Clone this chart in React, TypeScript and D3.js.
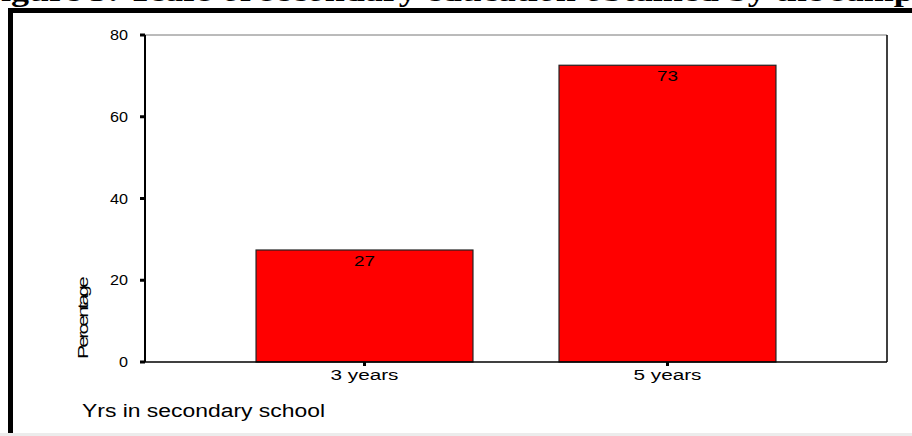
import { useEffect, useRef } from 'react';
import * as d3 from 'd3';

// values
const categories = ['3 years', '5 years'];
const percentages = [27.4, 72.6];
const barLabels = ['27', '73'];
const yTicks = [0, 20, 40, 60, 80];

const W = 912;
const H = 436;
const SANS = 'Arial, "Liberation Sans", sans-serif';

export default function App() {
  const ref = useRef<SVGSVGElement | null>(null);

  useEffect(() => {
    document.body.style.margin = '0';
    const svg = d3.select(ref.current);
    svg.selectAll('*').remove();

    const plot = { left: 145, right: 887, top: 35, bottom: 362 };

    // page background + cut-off caption
    svg.append('rect').attr('width', W).attr('height', H).attr('fill', '#fff');
    svg.append('rect').attr('x', 0).attr('y', 433).attr('width', W).attr('height', 3).attr('fill', '#ececec');
    svg.append('text')
      .attr('transform', 'translate(-21,0.5) scale(1.2,1)')
      .style('font-family', '"Liberation Serif", "Times New Roman", serif')
      .style('font-weight', 'bold').style('font-size', '30px')
      .text('Figure 5: Years of secondary education obtained by the sample population');

    // thick frame (top + left)
    svg.append('rect').attr('x', 8).attr('y', 8).attr('width', W - 8).attr('height', 5).attr('fill', '#000');
    svg.append('rect').attr('x', 8).attr('y', 8).attr('width', 5).attr('height', 425).attr('fill', '#000');

    const x = d3.scaleBand<string>().domain(categories)
      .range([plot.left, plot.right]).paddingInner(0.284).paddingOuter(0.3665);
    const y = d3.scaleLinear().domain([0, 80]).range([plot.bottom, plot.top]);

    // plot box
    svg.append('line').attr('x1', plot.left).attr('x2', plot.right).attr('y1', plot.top).attr('y2', plot.top)
      .attr('stroke', '#777').attr('stroke-width', 1);
    svg.append('line').attr('x1', plot.right).attr('x2', plot.right).attr('y1', plot.top).attr('y2', plot.bottom)
      .attr('stroke', '#000').attr('stroke-width', 1.5);

    // bars
    svg.selectAll('rect.bar').data(categories).enter().append('rect')
      .attr('class', 'bar')
      .attr('x', d => x(d)!)
      .attr('y', (d, i) => y(percentages[i]))
      .attr('width', x.bandwidth())
      .attr('height', (d, i) => y(0) - y(percentages[i]))
      .attr('fill', '#ff0000').attr('stroke', '#222').attr('stroke-width', 1.2);

    svg.selectAll('text.bl').data(categories).enter().append('text')
      .attr('class', 'bl')
      .attr('x', d => x(d)! + x.bandwidth() / 2)
      .attr('y', (d, i) => y(percentages[i]) + 16)
      .attr('text-anchor', 'middle')
      .attr('textLength', 21).attr('lengthAdjust', 'spacingAndGlyphs')
      .style('font-family', SANS).style('font-size', '14px')
      .text((d, i) => barLabels[i]);

    // axes
    svg.append('line').attr('x1', plot.left).attr('x2', plot.left).attr('y1', plot.top).attr('y2', plot.bottom)
      .attr('stroke', '#000').attr('stroke-width', 2);
    svg.append('line').attr('x1', plot.left).attr('x2', plot.right).attr('y1', plot.bottom).attr('y2', plot.bottom)
      .attr('stroke', '#000').attr('stroke-width', 1.5);

    yTicks.forEach(t => {
      const s = String(t);
      svg.append('rect').attr('x', plot.left - 5).attr('y', y(t) - 1.5).attr('width', 5).attr('height', 3).attr('fill', '#000');
      svg.append('text').attr('x', plot.left - 17).attr('y', y(t) + 5)
        .attr('text-anchor', 'end')
        .attr('textLength', s.length * 9).attr('lengthAdjust', 'spacingAndGlyphs')
        .style('font-family', SANS).style('font-size', '14px')
        .text(s);
    });

    categories.forEach(c => {
      const cx = x(c)! + x.bandwidth() / 2;
      svg.append('rect').attr('x', cx - 1.5).attr('y', plot.bottom).attr('width', 3).attr('height', 4).attr('fill', '#000');
      svg.append('text').attr('x', cx).attr('y', plot.bottom + 18)
        .attr('text-anchor', 'middle')
        .attr('textLength', 68).attr('lengthAdjust', 'spacingAndGlyphs')
        .style('font-family', SANS).style('font-size', '14px')
        .text(c);
    });

    svg.append('text').attr('x', 82).attr('y', 417)
      .attr('textLength', 243).attr('lengthAdjust', 'spacingAndGlyphs')
      .style('font-family', SANS).style('font-size', '18px')
      .text('Yrs in secondary school');

    svg.append('text')
      .attr('transform', 'translate(88,319) rotate(-90)')
      .attr('text-anchor', 'middle')
      .attr('textLength', 80).attr('lengthAdjust', 'spacingAndGlyphs')
      .style('font-family', SANS).style('font-size', '15px')
      .style('letter-spacing', '-2px')
      .text('Percentage');
  }, []);

  return <svg ref={ref} width={W} height={H} style={{ display: 'block' }} />;
}
